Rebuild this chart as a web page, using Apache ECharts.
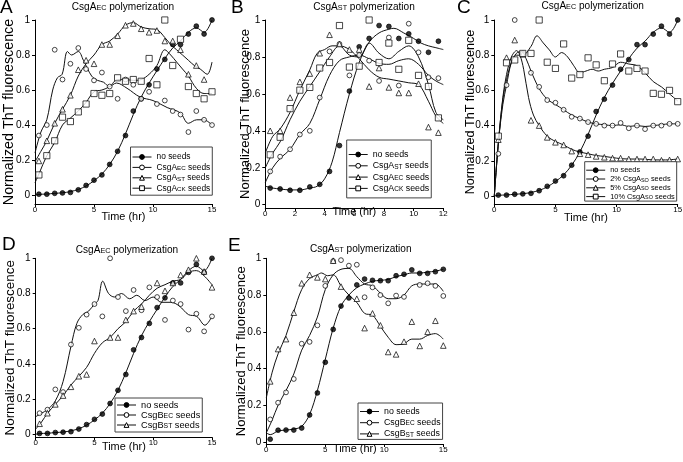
<!DOCTYPE html>
<html><head><meta charset="utf-8">
<script src="https://cdn.jsdelivr.net/npm/echarts@6/dist/echarts.min.js"></script>
<style>html,body{margin:0;padding:0;background:#fff}#c{width:683px;height:462px}</style>
</head><body><div id="c"></div>
<script>
// ---------- data ----------
const t15 = [0.33,1,1.67,2.33,3,3.67,4.33,5,5.67,6.33,7,7.67,8.33,9,9.67,10.33,11,11.67,12.33,13,13.67,14.33,15];
const t12 = [0.33,1,1.67,2.33,3,3.67,4.33,5,5.67,6.33,7,7.67,8.33,9,9.67,10.33,11,11.67];
const yTicks = [0,0.2,0.4,0.6,0.8,1];

// CsgA_EC polymerization without seeds (same run shown in A, C, D)
const noSeedsEC = [0.005,0.005,0.01,0.012,0.015,0.03,0.055,0.085,0.115,0.175,0.25,0.34,0.48,0.55,0.63,0.72,0.775,0.86,0.86,0.92,0.965,0.92,1.0];
const noSeedsECFit = [[0,0],[0.33,0.004],[1,0.006],[1.67,0.01],[2.33,0.013],[3,0.02],[3.67,0.032],[4.33,0.052],[5,0.082],[5.67,0.12],[6.33,0.175],[7,0.25],[7.67,0.35],[8.33,0.46],[9,0.56],[9.67,0.64],[10.33,0.71],[11,0.78],[11.67,0.84],[12.33,0.88],[13,0.93],[13.67,0.955],[14.33,0.93],[15,1.0]];

// Panel A
const aEC = [0.34,0.40,0.83,0.66,0.75,0.84,0.72,0.655,0.70,0.62,0.55,0.66,0.63,0.55,0.59,0.52,0.54,0.48,0.46,0.36,0.48,0.43,0.40];
const aECFit = [[0,0.24],[0.5,0.36],[1,0.43],[1.5,0.6],[1.9,0.67],[2.3,0.69],[2.75,0.82],[3.1,0.8],[3.67,0.82],[4.1,0.77],[4.8,0.68],[5.3,0.655],[5.8,0.645],[6.3,0.62],[6.9,0.64],[7.8,0.61],[8.9,0.56],[10,0.54],[11.2,0.5],[12.3,0.47],[13,0.41],[13.7,0.43],[14.3,0.43],[15,0.4]];
const aST = [0.195,0.31,0.41,0.49,0.57,0.716,0.77,0.75,0.86,0.86,0.91,0.97,0.98,0.95,0.93,0.94,0.88,0.88,0.83,0.69,0.74,0.66,null];
const aSTFit = [[0,0.19],[0.5,0.25],[1,0.31],[1.67,0.41],[2.33,0.49],[3,0.57],[3.67,0.68],[4.33,0.75],[5,0.8],[5.67,0.86],[6.33,0.88],[7,0.92],[7.67,0.97],[8.33,0.985],[9,0.96],[9.67,0.95],[10.33,0.945],[11,0.9],[11.5,0.86],[12,0.83],[12.5,0.8],[13,0.77],[13.5,0.74],[14,0.72],[14.6,0.69],[15,0.76]];
const aCK = [0.115,0.225,0.31,0.445,0.42,0.475,0.52,0.58,0.57,0.58,0.67,0.65,0.66,0.65,0.78,0.63,1.0,0.74,0.89,0.62,0.58,0.55,0.59];
const aCKFit = [[0,0.07],[0.33,0.12],[1,0.225],[1.67,0.3],[2.33,0.4],[3,0.44],[3.67,0.48],[4.33,0.53],[5,0.59],[5.67,0.6],[6.33,0.62],[7,0.66],[7.67,0.66],[8.33,0.655],[9,0.66],[9.67,0.69],[10.33,0.74],[11,0.83],[11.5,0.8],[12,0.76],[12.5,0.72],[13,0.68],[13.67,0.61],[14.33,0.58],[15,0.58]];

// Panel B
const bNone = [0.09,0.085,0.078,0.078,0.096,0.11,0.18,0.32,0.615,0.855,0.90,0.97,0.965,0.90,0.925,0.885,0.825,0.885];
const bNoneFit = [[0,0.1],[0.5,0.09],[1,0.085],[1.67,0.08],[2.33,0.08],[3,0.09],[3.5,0.1],[4,0.14],[4.5,0.23],[5,0.39],[5.67,0.6],[6.33,0.77],[7,0.88],[7.67,0.93],[8.33,0.95],[8.67,0.955],[9.33,0.93],[10,0.9],[10.5,0.875],[11,0.86],[11.5,0.85],[12,0.84]];
const bST = [0.18,0.26,0.30,0.38,0.40,0.58,0.83,0.87,0.70,0.81,0.78,0.67,0.905,0.645,0.98,0.825,0.69,0.685];
const bSTFit = [[0,0.12],[0.5,0.2],[1,0.25],[1.67,0.3],[2.33,0.38],[3,0.44],[3.67,0.57],[4.33,0.7],[5,0.78],[5.67,0.8],[6.33,0.81],[7,0.79],[7.67,0.765],[8.33,0.76],[9,0.78],[9.67,0.79],[10.33,0.76],[11,0.7],[11.5,0.67],[12,0.65]];
const bEC = [0.40,0.40,0.58,0.665,0.71,0.82,0.92,0.87,0.84,0.84,0.64,0.74,0.635,0.605,0.605,0.655,0.42,0.39];
const bECFit = [[0,0.28],[0.5,0.37],[1,0.41],[1.67,0.5],[2.33,0.62],[3,0.73],[3.5,0.82],[4,0.84],[4.5,0.86],[5,0.86],[5.67,0.84],[6.33,0.79],[7,0.73],[7.67,0.69],[8.33,0.68],[9,0.67],[9.67,0.66],[10.33,0.65],[11,0.56],[11.5,0.48],[12,0.44]];
const bCK = [0.27,0.365,0.52,0.62,0.635,0.74,0.77,0.97,0.745,0.75,1.0,0.77,0.875,0.733,0.89,0.70,0.64,0.47];
const bCKFit = [[0,0.2],[0.5,0.28],[1,0.34],[1.67,0.46],[2.33,0.56],[3,0.64],[3.67,0.72],[4.33,0.8],[5,0.86],[5.67,0.81],[6.33,0.8],[7,0.875],[7.67,0.82],[8.33,0.79],[9,0.83],[9.67,0.86],[10.33,0.8],[11,0.65],[11.5,0.5],[12,0.46]];

// Panel C
const c2 = [0.24,0.63,1.0,0.81,0.70,0.62,0.545,0.53,0.49,0.45,0.44,0.42,0.41,0.40,0.40,0.415,0.385,0.40,0.38,0.40,0.40,0.41,0.41];
const c2Fit = [[0,0],[0.33,0.3],[0.7,0.52],[1,0.63],[1.4,0.76],[1.8,0.81],[2.2,0.82],[2.6,0.78],[3,0.71],[3.67,0.61],[4.33,0.55],[5,0.52],[5.67,0.49],[6.33,0.46],[7,0.44],[7.67,0.42],[8.33,0.41],[9,0.405],[9.67,0.4],[10.33,0.405],[11,0.395],[11.67,0.4],[12.33,0.395],[13,0.4],[13.67,0.405],[14.33,0.41],[15,0.41]];
const c5 = [0.32,0.786,0.886,0.805,0.43,0.40,0.333,0.305,0.29,0.255,0.24,0.235,0.225,0.22,0.215,0.215,0.21,0.21,0.21,0.21,0.203,0.205,0.21];
const c5Fit = [[0,0],[0.33,0.3],[0.7,0.56],[1,0.69],[1.4,0.79],[1.83,0.826],[2.1,0.8],[2.4,0.72],[2.8,0.56],[3.2,0.46],[3.67,0.4],[4.33,0.34],[5,0.31],[5.67,0.29],[6.33,0.265],[7,0.25],[7.67,0.24],[8.33,0.23],[9,0.225],[10,0.215],[11,0.21],[12,0.21],[13,0.205],[14,0.205],[15,0.21]];
const c10 = [0.34,0.757,0.773,0.81,0.81,1.0,0.76,0.725,0.864,0.67,0.69,0.785,0.745,0.655,0.75,0.807,0.71,0.725,0.71,0.583,0.578,0.60,0.536];
const c10Fit = [[0,0],[0.33,0.3],[0.7,0.55],[1,0.66],[1.4,0.76],[1.8,0.8],[2.33,0.8],[3,0.85],[3.49,0.91],[4,0.87],[4.5,0.83],[5,0.79],[5.5,0.815],[6,0.79],[6.5,0.74],[7,0.7],[7.5,0.71],[8,0.72],[8.5,0.71],[9,0.72],[9.67,0.73],[10.33,0.76],[11,0.75],[11.67,0.74],[12.33,0.7],[13,0.65],[13.67,0.62],[14.33,0.58],[15,0.54]];

// Panel D
const dEC = [0.12,0.14,0.255,0.24,0.51,0.605,0.68,0.74,0.67,1.0,0.78,0.70,0.82,0.705,0.835,0.78,0.65,0.76,0.74,0.595,0.685,0.585,0.67];
const dECFit = [[0,0.1],[0.5,0.12],[1,0.14],[1.67,0.19],[2.33,0.3],[3,0.5],[3.5,0.63],[4,0.68],[4.5,0.7],[5,0.74],[5.3,0.76],[5.7,0.87],[6.2,0.8],[6.7,0.78],[7.3,0.8],[8,0.77],[8.6,0.79],[9.3,0.76],[10,0.78],[10.7,0.75],[11.5,0.75],[12.2,0.73],[13,0.68],[13.7,0.67],[14.4,0.62],[15,0.67]];
const dST = [0.06,0.12,0.17,0.22,0.27,0.33,0.34,0.53,null,0.55,0.55,0.65,0.70,0.725,null,0.86,0.815,0.86,0.905,0.935,1.0,0.925,0.835];
const dSTFit = [[0,0.03],[0.5,0.07],[1,0.12],[1.67,0.17],[2.33,0.22],[3,0.28],[3.67,0.33],[4.33,0.38],[5,0.46],[5.67,0.52],[6.33,0.55],[7,0.6],[7.67,0.64],[8.33,0.7],[9,0.74],[9.67,0.79],[10.33,0.83],[11,0.85],[11.67,0.87],[12.33,0.88],[13,0.92],[13.67,0.93],[14.33,0.9],[15,0.85]];

// Panel E
const eNone = [0.015,0.064,0.065,0.065,0.076,0.147,0.267,0.434,0.613,0.74,0.784,0.855,0.887,0.88,0.878,0.878,0.905,0.913,0.937,0.918,0.918,0.927,0.94];
const eNoneFit = [[0,0.05],[0.33,0.04],[1,0.06],[1.67,0.065],[2.33,0.07],[3,0.085],[3.67,0.15],[4.33,0.28],[5,0.45],[5.67,0.62],[6.33,0.74],[7,0.8],[7.67,0.84],[8.33,0.86],[9,0.875],[9.67,0.88],[10.33,0.885],[11,0.9],[11.67,0.91],[12.33,0.92],[13,0.92],[13.67,0.925],[14.33,0.93],[15,0.94]];
const eEC = [0.123,0.214,0.27,0.343,0.535,0.545,0.635,0.85,0.985,0.99,0.96,0.965,0.788,0.842,0.80,0.755,0.797,0.79,null,0.855,0.864,0.85,0.795];
const eECFit = [[0,0.05],[0.5,0.12],[1,0.2],[1.67,0.28],[2.33,0.37],[3,0.5],[3.67,0.58],[4.33,0.68],[5,0.83],[5.67,0.91],[6.33,0.94],[7,0.945],[7.67,0.9],[8.33,0.86],[9,0.85],[9.67,0.81],[10.33,0.78],[11,0.78],[11.67,0.8],[12.33,0.85],[13,0.86],[13.67,0.86],[14.33,0.86],[15,0.82]];
const eST = [0.33,0.506,0.56,0.704,0.864,0.91,0.896,0.887,0.987,0.846,null,0.78,0.62,0.70,0.635,0.49,0.477,0.546,0.655,0.523,0.60,0.66,0.525];
const eSTFit = [[0,0.24],[0.5,0.38],[1,0.48],[1.67,0.58],[2.33,0.71],[3,0.83],[3.67,0.89],[4.33,0.91],[4.67,0.92],[5.2,0.905],[5.67,0.91],[6.33,0.85],[7,0.8],[7.67,0.76],[8.33,0.7],[9,0.69],[9.67,0.63],[10.33,0.57],[11,0.53],[11.67,0.535],[12.33,0.56],[13,0.56],[13.67,0.58],[14.33,0.59],[15,0.56]];

// labels
const LBL = {
  A_ns:'{n|no seeds}', A_ec:'{n|CsgA}{s|EC}{n| seeds}', A_st:'{n|CsgA}{s|ST}{n| seeds}', A_ck:'{n|CsgA}{s|CK}{n| seeds}',
  B_ns:'{n|no seeds}', B_st:'{n|CsgA}{s|ST}{n| seeds}', B_ec:'{n|CsgA}{s|EC}{n| seeds}', B_ck:'{n|CsgA}{s|CK}{n| seeds}',
  C_ns:'{n|no seeds}', C_2:'{n|2% CsgA}{s|SO}{n| seeds}', C_5:'{n|5% CsgA}{s|SO}{n| seeds}', C_10:'{n|10% CsgA}{s|SO}{n| seeds}',
  D_ns:'{n|no seeds}', D_ec:'{n|CsgB}{s|EC}{n| seeds}', D_st:'{n|CsgB}{s|ST}{n| seeds}',
  E_ns:'{n|no seeds}', E_ec:'{n|CsgB}{s|EC}{n| seeds}', E_st:'{n|CsgB}{s|ST}{n| seeds}'
};
const TITLES = ['{n|CsgA}{s|EC}{n| polymerization}','{n|CsgA}{s|ST}{n| polymerization}','{n|CsgA}{s|EC}{n| polymerization}','{n|CsgA}{s|EC}{n| polymerization}','{n|CsgA}{s|ST}{n| polymerization}'];
const LETTERS = ['A','B','C','D','E'];

// ---------- fonts ----------
const cv = document.createElement('canvas').getContext('2d');
cv.font = '20px "Liberation Sans Narrow", monospace'; const w1 = cv.measureText('abcdefghij seeds').width;
cv.font = '20px monospace'; const w2 = cv.measureText('abcdefghij seeds').width;
const HAS_NARROW = Math.abs(w1 - w2) > 0.5;
const FN = HAS_NARROW ? '"Liberation Sans Narrow","Liberation Sans",sans-serif' : '"Liberation Sans",sans-serif';
const K = HAS_NARROW ? 1 : 0.84;
const fz = n => +(n * K).toFixed(2);

// ---------- layout ----------
const P = [
  {grid:{left:35, top:20, width:177, height:184}, yMin:-0.051, xMax:15, xInt:5, xGap:7.5, yGap:18.5, yName:17,
   legend:{left:130.5, top:147, padding:[6,2,3,1.5], fs:10, gap:2.4}, title:[123,7], letter:[0,8]},
  {grid:{left:265.3, top:20, width:178, height:188}, yMin:-0.018, xMax:12, xInt:2, xGap:-2, yGap:13, yName:15.5,
   legend:{left:346.7, top:140, padding:[10,2,5,1.5], fs:10.5, gap:2.3}, title:[364,7], letter:[231,8]},
  {grid:{left:494.3, top:20, width:183.4, height:184}, yMin:-0.0455, xMax:15, xInt:5, xGap:8.5, yGap:17, yName:15,
   legend:{left:584.7, top:161.7, padding:[5,2,1,1], fs:8.8, gap:1.8}, title:[592.7,6], letter:[457,8]},
  {grid:{left:35.7, top:258.3, width:176.3, height:179}, yMin:-0.017, xMax:15, xInt:5, xGap:4.5, yGap:19, yName:16,
   legend:{left:115, top:398, padding:[2.5,2,2.5,1.5], fs:11, gap:1}, title:[127,250], letter:[2,245]},
  {grid:{left:266.3, top:258.3, width:177, height:185.7}, yMin:-0.011, xMax:15, xInt:5, xGap:-0.5, yGap:18, yName:15.5,
   legend:{left:358, top:403, padding:[4,2,1,1.5], fs:10.5, gap:2.2}, title:[360.7,249], letter:[228,245.5]}
];

// ---------- build ----------
const grids = [], xAxes = [], yAxes = [], series = [], legends = [], graphics = [];
const SYM = {
  ns:{symbol:'circle', fill:'#000', size:4.8},
  oc:{symbol:'circle', fill:'#fff', size:4.8},
  tr:{symbol:'triangle', fill:'#fff', size:5.6},
  sq:{symbol:'rect', fill:'#fff', size:6.2}
};
function add(pi, key, xs, ys, fit, st) {
  const name = LETTERS[pi] + '_' + key;
  const s = SYM[st];
  series.push({type:'line', name, xAxisIndex:pi, yAxisIndex:pi, data:fit, smooth:0.35, showSymbol:false,
    symbol:s.symbol, symbolSize:s.size, itemStyle:{color:s.fill, borderColor:'#000', borderWidth:1},
    lineStyle:{color:'#111', width:1}, silent:true, z:2, animation:false});
  series.push({type:'scatter', name:name + '_pts', xAxisIndex:pi, yAxisIndex:pi,
    data: xs.map((x, i) => [x, ys[i]]).filter(d => d[1] != null),
    symbol:s.symbol, symbolSize:s.size, itemStyle:{color:s.fill, borderColor:'#000', borderWidth:0.9},
    silent:true, z:3, animation:false});
  return name;
}
const legendNames = [[],[],[],[],[]];
legendNames[0].push(add(0,'ns',t15,noSeedsEC,noSeedsECFit,'ns'), add(0,'ec',t15,aEC,aECFit,'oc'), add(0,'st',t15,aST,aSTFit,'tr'), add(0,'ck',t15,aCK,aCKFit,'sq'));
legendNames[1].push(add(1,'ns',t12,bNone,bNoneFit,'ns'), add(1,'st',t12,bST,bSTFit,'oc'), add(1,'ec',t12,bEC,bECFit,'tr'), add(1,'ck',t12,bCK,bCKFit,'sq'));
legendNames[2].push(add(2,'ns',t15,noSeedsEC,noSeedsECFit,'ns'), add(2,'2',t15,c2,c2Fit,'oc'), add(2,'5',t15,c5,c5Fit,'tr'), add(2,'10',t15,c10,c10Fit,'sq'));
legendNames[3].push(add(3,'ns',t15,noSeedsEC,noSeedsECFit,'ns'), add(3,'ec',t15,dEC,dECFit,'oc'), add(3,'st',t15,dST,dSTFit,'tr'));
legendNames[4].push(add(4,'ns',t15,eNone,eNoneFit,'ns'), add(4,'ec',t15,eEC,eECFit,'oc'), add(4,'st',t15,eST,eSTFit,'tr'));

P.forEach((p, i) => {
  grids.push(Object.assign({outerBoundsMode:'none', containLabel:false}, p.grid));
  xAxes.push({type:'value', gridIndex:i, min:0, max:p.xMax, interval:p.xInt,
    name:'Time (hr)', nameLocation:'middle', nameGap:p.xGap, nameMoveOverlap:false,
    nameTextStyle:{fontFamily:FN, fontSize:fz(13), color:'#000'},
    axisLine:{show:true, onZero:false, lineStyle:{color:'#000', width:1}},
    axisTick:{show:true, length:3, lineStyle:{color:'#000', width:1}},
    axisLabel:{fontFamily:FN, fontSize:fz(9.5), color:'#000', margin:2},
    splitLine:{show:false}});
  yAxes.push({type:'value', gridIndex:i, min:p.yMin, max:1,
    name:'Normalized ThT fluorescence', nameLocation:'middle', nameGap:p.yGap, nameMoveOverlap:false,
    nameTextStyle:{fontFamily:FN, fontSize:fz(p.yName), color:'#000'},
    axisLine:{show:true, onZero:false, lineStyle:{color:'#000', width:1}},
    axisTick:{show:true, length:3, customValues:yTicks, lineStyle:{color:'#000', width:1}},
    axisLabel:{customValues:yTicks, fontFamily:FN, fontSize:fz(12), color:'#000', margin:5},
    splitLine:{show:false}});
  const L = p.legend;
  legends.push({data:legendNames[i], orient:'vertical', left:L.left, top:L.top, padding:L.padding,
    itemWidth:19, itemHeight:6, itemGap:L.gap, borderColor:'#444', borderWidth:1, backgroundColor:'#fff',
    selectedMode:false, align:'left', itemStyle:{borderWidth:1}, lineStyle:{width:1, color:'#111'},
    formatter: n => LBL[n],
    textStyle:{fontFamily:FN, fontSize:fz(L.fs), color:'#000',
      rich:{n:{fontFamily:FN, fontSize:fz(L.fs), color:'#000', verticalAlign:'bottom'},
            s:{fontFamily:FN, fontSize:fz(L.fs*0.74), color:'#000', verticalAlign:'bottom'}}}});
  graphics.push({type:'text', x:p.letter[0], y:p.letter[1], silent:true,
    style:{text:LETTERS[i], fontFamily:'"Liberation Sans",sans-serif', fontSize:19, fill:'#000', align:'left', verticalAlign:'middle'}});
  graphics.push({type:'text', x:p.title[0], y:p.title[1], silent:true,
    style:{text:TITLES[i], fill:'#000', align:'center', verticalAlign:'middle',
      rich:{n:{fontFamily:FN, fontSize:fz(12), fill:'#000', verticalAlign:'bottom'},
            s:{fontFamily:FN, fontSize:fz(8.6), fill:'#000', verticalAlign:'bottom'}}}});
});

const chart = echarts.init(document.getElementById('c'), null, {renderer:'canvas', width:683, height:462});
chart.setOption({
  animation:false, backgroundColor:'#fff',
  grid:grids, xAxis:xAxes, yAxis:yAxes, legend:legends, series, graphic:graphics
});
</script>
</body></html>
